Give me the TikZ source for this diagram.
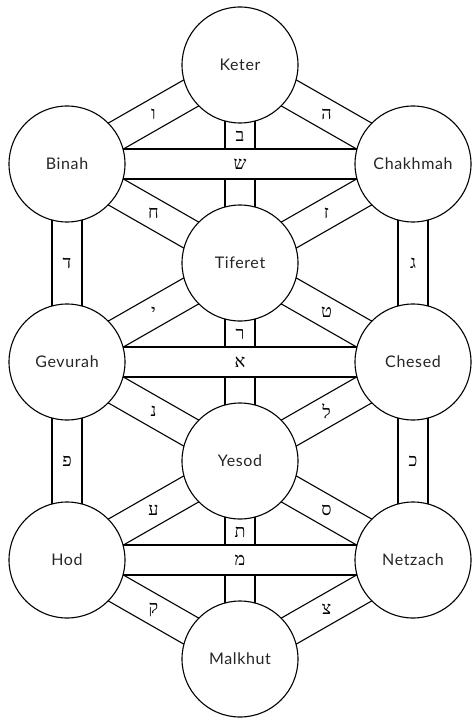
\documentclass[tikz,border=0pt]{standalone}
\usepackage{fontspec}
\newfontfamily\sefirafont[LetterSpace=4]{Lato}
\newfontfamily\hebfont[Script=Hebrew]{Liberation Serif}
\usetikzlibrary{calc}
\pgfdeclarelayer{background}
\pgfsetlayers{background,main}

\tikzset{
  sefira/.style={circle, draw, fill=white, line width=1.1pt, minimum size=116pt,
    inner sep=0pt, text=black!85, font=\sefirafont\fontsize{16}{16}\selectfont},
  letter/.style={inner sep=0pt, font=\hebfont\fontsize{18}{18}\selectfont},
  pathband/.style={draw, fill=white, line width=1.1pt}
}
% band of width 30pt between two sefirot
\newcommand\band[2]{%
  \draw[pathband] ($(#1)!15pt!90:(#2)$) -- ($(#2)!15pt!-90:(#1)$)
    -- ($(#2)!15pt!90:(#1)$) -- ($(#1)!15pt!-90:(#2)$) -- cycle;}

\begin{document}
\begin{tikzpicture}[x=1pt,y=-1pt]
  \useasboundingbox (0,0) rectangle (472,719);
  \node[sefira] (keter)    at (240,65)  {Keter};
  \node[sefira] (binah)    at (67,164)  {Binah};
  \node[sefira] (chakhmah) at (413,164) {Chakhmah};
  \node[sefira] (tiferet)  at (240,263) {Tiferet};
  \node[sefira] (gevurah)  at (67,362)  {Gevurah};
  \node[sefira] (chesed)   at (413,362) {Chesed};
  \node[sefira] (yesod)    at (240,461) {Yesod};
  \node[sefira] (hod)      at (67,560)  {Hod};
  \node[sefira] (netzach)  at (413,560) {Netzach};
  \node[sefira] (malkhut)  at (240,659) {Malkhut};

  \begin{pgfonlayer}{background}
    % diagonal and vertical paths
    \foreach \a/\b/\l in {keter/binah/ו, keter/chakhmah/ה, binah/tiferet/ח,
        chakhmah/tiferet/ז, binah/gevurah/ד, chakhmah/chesed/ג,
        gevurah/tiferet/י, chesed/tiferet/ט, gevurah/yesod/נ, chesed/yesod/ל,
        gevurah/hod/פ, chesed/netzach/כ, hod/yesod/ע, netzach/yesod/ס,
        hod/malkhut/ק, netzach/malkhut/צ}{
      \band{\a}{\b}
      \node[letter] (\a-\b) at ($(\a)!0.5!(\b)$) {\l};
    }
    \band{keter}{tiferet}
    \band{tiferet}{yesod}
    \band{yesod}{malkhut}
    % horizontal paths on top
    \foreach \a/\b/\l in {binah/chakhmah/ש, gevurah/chesed/א, hod/netzach/מ}{
      \band{\a}{\b}
      \node[letter] (\a-\b) at ($(\a)!0.5!(\b)$) {\l};
    }
  \end{pgfonlayer}

  \node[letter] (keter-tiferet)  at ($(keter.south)+(0,13)$)   {ב};
  \node[letter] (tiferet-yesod)  at ($(tiferet.south)+(0,13)$) {ר};
  \node[letter] (yesod-malkhut)  at ($(yesod.south)+(0,13)$)   {ת};
\end{tikzpicture}
\end{document}
